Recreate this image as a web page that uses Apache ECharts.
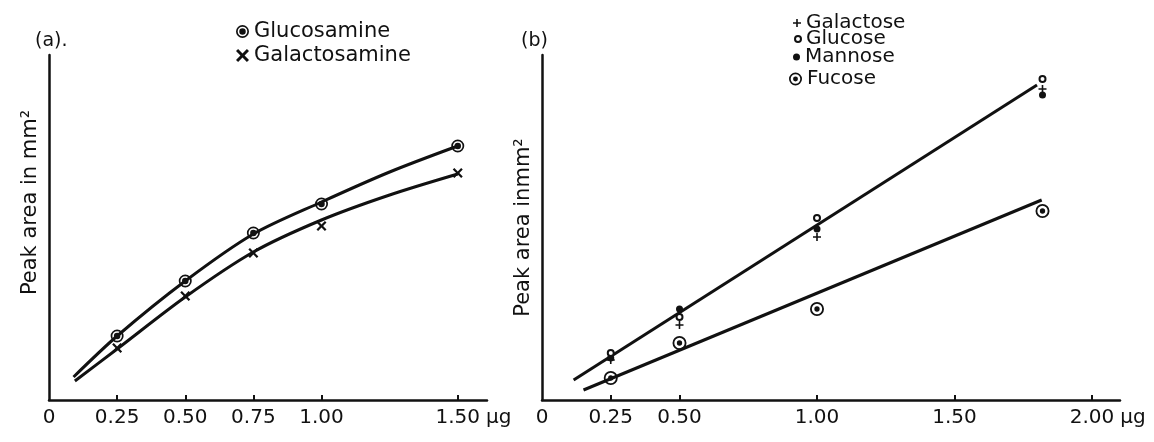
<!DOCTYPE html>
<html>
<head>
<meta charset="utf-8">
<script src="https://cdn.jsdelivr.net/npm/echarts@6/dist/echarts.min.js"></script>
<style>
html,body{margin:0;padding:0;background:#fff;}
#chart{width:1154px;height:442px;}
</style>
</head>
<body>
<div id="chart"></div>
<script>
// ---- tick labels ----
const tickValuesA = [0, 0.25, 0.5, 0.75, 1.0, 1.5];
const tickLabelsA = ['0', '0.25', '0.50', '0.75', '1.00', '1.50'];
const tickValuesB = [0, 0.25, 0.5, 1.0, 1.5, 2.0];
const tickLabelsB = ['0', '0.25', '0.50', '1.00', '1.50', '2.00'];

// ---- panel (a): amino sugars (x in µg, y peak area, arbitrary units) ----
const glucosamine   = [[0.25, 64], [0.5, 119], [0.75, 167], [1.0, 196], [1.5, 254]];
const galactosamine = [[0.25, 52], [0.5, 104], [0.75, 147], [1.0, 174], [1.5, 227]];
// hand-drawn calibration curves
const glucosamineCurve   = [[0.09, 23], [0.25, 64], [0.5, 119], [0.75, 166], [1.0, 198], [1.25, 228], [1.5, 254]];
const galactosamineCurve = [[0.095, 19], [0.25, 51], [0.5, 103], [0.75, 148], [1.0, 180], [1.25, 205], [1.5, 226]];

// ---- panel (b): neutral sugars ----
const galactose = [[0.25, 40], [0.5, 75], [1.0, 163], [1.82, 311]];
const glucose   = [[0.25, 47], [0.5, 83], [1.0, 182], [1.82, 321]];
const mannose   = [[0.25, 42], [0.5, 91], [1.0, 171], [1.82, 305]];
const fucose    = [[0.25, 22], [0.5, 57], [1.0, 91], [1.82, 189]];
const hexoseLine = [[0.115, 20], [1.80, 315]];
const fucoseLine = [[0.151, 10], [1.817, 200]];

const INK = '#111';
const FONT = 'DejaVu Sans';

const ringDotBig = 'path://M0 10A10 10 0 1 1 20 10A10 10 0 1 1 0 10ZM2.6 10A7.4 7.4 0 1 0 17.4 10A7.4 7.4 0 1 0 2.6 10ZM5 10A5 5 0 1 1 15 10A5 5 0 1 1 5 10Z';
const ringDotSmall = 'path://M0 10A10 10 0 1 1 20 10A10 10 0 1 1 0 10ZM2.6 10A7.4 7.4 0 1 0 17.4 10A7.4 7.4 0 1 0 2.6 10ZM6.2 10A3.8 3.8 0 1 1 13.8 10A3.8 3.8 0 1 1 6.2 10Z';
const crossX = 'path://M0 1.6L1.6 0L5 3.4L8.4 0L10 1.6L6.6 5L10 8.4L8.4 10L5 6.6L1.6 10L0 8.4L3.4 5Z';
const plusP = 'path://M4 0L6 0L6 4L10 4L10 6L6 6L6 10L4 10L4 6L0 6L0 4L4 4Z';

function fmt(values, labels) {
  return function (v) {
    for (let i = 0; i < values.length; i++) {
      if (Math.abs(values[i] - v) < 1e-6) return labels[i];
    }
    return '';
  };
}

function xAxisCfg(gridIndex, max, values, labels, nameGap) {
  return {
    type: 'value', gridIndex: gridIndex, min: 0, max: max,
    name: 'µg', nameLocation: 'end', nameGap: nameGap,
    nameTextStyle: { fontFamily: FONT, fontSize: 20, color: INK, align: 'left', verticalAlign: 'top', padding: [8, 0, 0, 0] },
    axisLine: { show: true, lineStyle: { color: INK, width: 2.5 } },
    axisTick: { show: true, inside: true, length: 5, customValues: values.slice(1), lineStyle: { color: INK, width: 2 } },
    axisLabel: { show: true, customValues: values, formatter: fmt(values, labels), fontFamily: FONT, fontSize: 20, color: INK, margin: 8 },
    splitLine: { show: false }
  };
}
function yAxisCfg(gridIndex, name, padShift) {
  return {
    type: 'value', gridIndex: gridIndex, min: 0, max: 345,
    name: name, nameLocation: 'middle', nameRotate: 90, nameGap: 8,
    nameTextStyle: { fontFamily: FONT, fontSize: 21, color: INK, padding: padShift },
    axisLine: { show: true, onZero: false, lineStyle: { color: INK, width: 2.5 } },
    axisTick: { show: false }, axisLabel: { show: false }, splitLine: { show: false }
  };
}

const legendText = { fontFamily: FONT, fontSize: 21, color: INK, lineHeight: 20 };
const legendTextB = { fontFamily: FONT, fontSize: 20, color: INK, lineHeight: 17 };

const option = {
  backgroundColor: '#fff',
  animation: false,
  title: [
    { text: '(a).', left: 30, top: 27, textStyle: { fontFamily: FONT, fontSize: 19, fontWeight: 'normal', color: INK } },
    { text: '(b)', left: 516, top: 27, textStyle: { fontFamily: FONT, fontSize: 19, fontWeight: 'normal', color: INK } }
  ],
  legend: [
    { left: 231, top: 16, orient: 'vertical', itemWidth: 13, itemHeight: 13, itemGap: 3, selectedMode: false,
      data: ['Glucosamine', 'Galactosamine'], textStyle: legendText },
    { left: 788, top: 8, itemWidth: 8, itemHeight: 8, selectedMode: false, data: ['Galactose'], textStyle: legendTextB },
    { left: 789, top: 24, itemWidth: 6, itemHeight: 6, selectedMode: false, data: ['Glucose'], textStyle: legendTextB },
    { left: 788, top: 42, itemWidth: 7, itemHeight: 7, selectedMode: false, data: ['Mannose'], textStyle: legendTextB },
    { left: 784, top: 64, itemWidth: 13, itemHeight: 13, selectedMode: false, data: ['Fucose'], textStyle: legendTextB }
  ],
  grid: [
    { left: 49, top: 55, width: 438, height: 345 },
    { left: 542, top: 55, width: 578, height: 345 }
  ],
  xAxis: [
    xAxisCfg(0, 438 / 272.5, tickValuesA, tickLabelsA, -5),
    xAxisCfg(1, 578 / 275, tickValuesB, tickLabelsB, -8)
  ],
  yAxis: [
    yAxisCfg(0, 'Peak area in mm²', [0, 0, 0, 50]),
    yAxisCfg(1, 'Peak area inmm²', [0, 0, 0, 0])
  ],
  series: [
    { type: 'line', xAxisIndex: 0, yAxisIndex: 0, data: glucosamineCurve, smooth: 0.3, showSymbol: false, symbol: 'none',
      lineStyle: { color: INK, width: 3 }, z: 2, silent: true },
    { type: 'line', xAxisIndex: 0, yAxisIndex: 0, data: galactosamineCurve, smooth: 0.3, showSymbol: false, symbol: 'none',
      lineStyle: { color: INK, width: 3 }, z: 2, silent: true },
    { name: 'Glucosamine', type: 'scatter', xAxisIndex: 0, yAxisIndex: 0, data: glucosamine, symbol: ringDotBig, symbolSize: 13,
      itemStyle: { color: INK, opacity: 1 }, z: 5 },
    { name: 'Galactosamine', type: 'scatter', xAxisIndex: 0, yAxisIndex: 0, data: galactosamine, symbol: crossX, symbolSize: 10,
      itemStyle: { color: INK, opacity: 1 }, z: 5 },

    { type: 'line', xAxisIndex: 1, yAxisIndex: 1, data: hexoseLine, showSymbol: false, symbol: 'none',
      lineStyle: { color: INK, width: 3 }, z: 2, silent: true },
    { type: 'line', xAxisIndex: 1, yAxisIndex: 1, data: fucoseLine, showSymbol: false, symbol: 'none',
      lineStyle: { color: INK, width: 3 }, z: 2, silent: true },
    { name: 'Galactose', type: 'scatter', xAxisIndex: 1, yAxisIndex: 1, data: galactose, symbol: plusP, symbolSize: 8,
      itemStyle: { color: INK, opacity: 1 }, z: 5 },
    { name: 'Glucose', type: 'scatter', xAxisIndex: 1, yAxisIndex: 1, data: glucose, symbol: 'emptyCircle', symbolSize: 6,
      itemStyle: { color: INK, borderColor: INK, borderWidth: 1.6, opacity: 1 }, z: 6 },
    { name: 'Mannose', type: 'scatter', xAxisIndex: 1, yAxisIndex: 1, data: mannose, symbol: 'circle', symbolSize: 7,
      itemStyle: { color: INK, opacity: 1 }, z: 5 },
    { name: 'Fucose', type: 'scatter', xAxisIndex: 1, yAxisIndex: 1, data: fucose, symbol: ringDotSmall, symbolSize: 14,
      itemStyle: { color: INK, opacity: 1 }, z: 5 }
  ]
};

const chart = echarts.init(document.getElementById('chart'), null, { renderer: 'canvas' });
chart.setOption(option);
</script>
</body>
</html>
